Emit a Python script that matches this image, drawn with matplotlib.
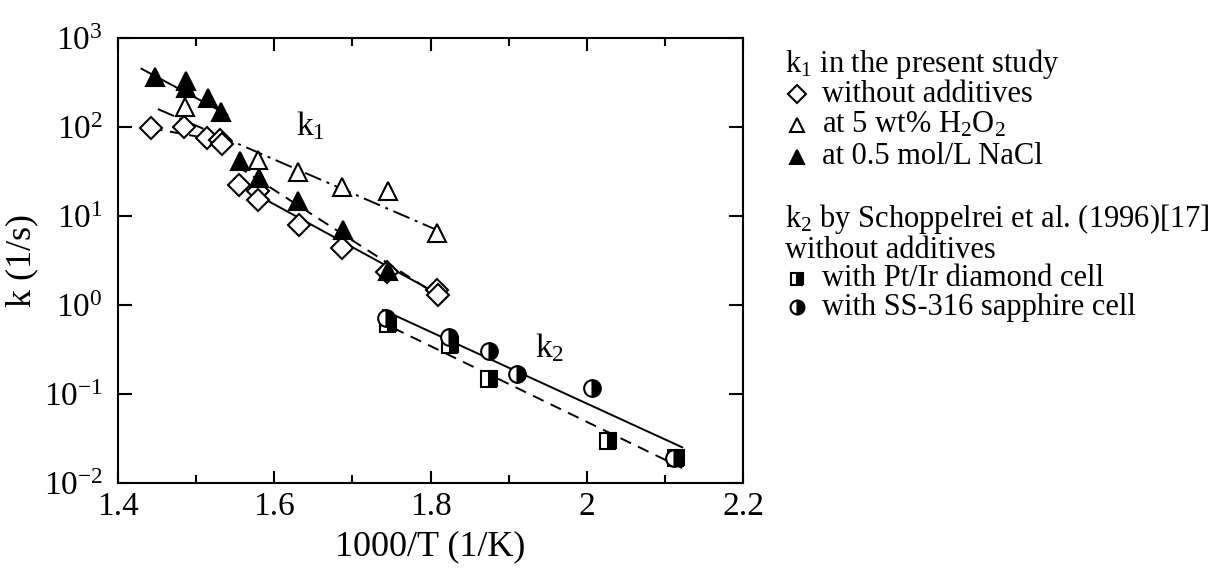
import numpy as np
import matplotlib
matplotlib.use("Agg")
import matplotlib.pyplot as plt
from matplotlib.lines import Line2D
from matplotlib.ticker import FixedLocator, MultipleLocator, FuncFormatter

plt.rcParams["font.family"] = "Liberation Serif"
plt.rcParams["mathtext.fontset"] = "custom"
plt.rcParams["mathtext.rm"] = "Liberation Serif"
plt.rcParams["mathtext.it"] = "Liberation Serif"
plt.rcParams["mathtext.default"] = "rm"

# k1, present study
x_noadd = [1.442, 1.484, 1.514, 1.531, 1.533, 1.555, 1.579, 1.579, 1.632, 1.687, 1.744, 1.808, 1.810]
k_noadd = [98.6, 101, 76, 72, 65, 22.6, 19.3, 15.3, 8.0, 4.4, 2.38, 1.49, 1.31]

x_h2o2 = [1.486, 1.579, 1.630, 1.687, 1.746, 1.808]
k_h2o2 = [172, 42.6, 32, 21.7, 19.1, 6.6]

x_nacl = [1.447, 1.487, 1.487, 1.515, 1.532, 1.556, 1.580, 1.630, 1.688, 1.746]
k_nacl = [365, 337, 281, 217, 148, 41.5, 27.4, 14.8, 7.1, 2.47]

# k2, Schoppelrei et al. (1996)
x_ptir = [1.746, 1.825, 1.875, 2.027, 2.114]
k_ptir = [0.62, 0.36, 0.149, 0.030, 0.0194]

x_ss316 = [1.743, 1.824, 1.875, 1.911, 2.007, 2.112]
k_ss316 = [0.72, 0.44, 0.31, 0.17, 0.118, 0.0194]

# fitted lines (end points)
fit_nacl_hi_x = [1.430, 1.540]
fit_nacl_hi_k = [457, 139]
fit_noadd_hi_x = [1.442, 1.535]
fit_noadd_hi_k = [98, 70]
fit_h2o2_x = [1.451, 1.808]
fit_h2o2_k = [161, 7.05]
fit_nacl_lo_x = [1.552, 1.812]
fit_nacl_lo_k = [37, 1.25]
fit_noadd_lo_x = [1.550, 1.819]
fit_noadd_lo_k = [23.8, 1.21]
fit_ss316_x = [1.739, 2.122]
fit_ss316_k = [0.89, 0.0255]
fit_ptir_x = [1.752, 2.122]
fit_ptir_k = [0.56, 0.0149]

fig = plt.figure(figsize=(12.22, 5.70), dpi=100)
ax = fig.add_axes([0.0966, 0.1518, 0.5115, 0.7807])

lw = 1.4
ax.plot(fit_nacl_hi_x, fit_nacl_hi_k, color="black", lw=lw)
ax.plot(fit_noadd_hi_x, fit_noadd_hi_k, color="black", lw=lw, dashes=(6, 4))
ax.plot(fit_h2o2_x, fit_h2o2_k, color="black", lw=lw, dashes=(9, 3, 1.5, 3))
ax.plot(fit_nacl_lo_x, fit_nacl_lo_k, color="black", lw=lw, dashes=(6, 4))
ax.plot(fit_noadd_lo_x, fit_noadd_lo_k, color="black", lw=lw)
ax.plot(fit_ss316_x, fit_ss316_k, color="black", lw=lw)
ax.plot(fit_ptir_x, fit_ptir_k, color="black", lw=lw, dashes=(6, 4))

mew = 1.5
ax.plot(x_noadd, k_noadd, ls="none", marker="D", ms=11, mfc="white", mec="black", mew=mew)
ax.plot(x_h2o2, k_h2o2, ls="none", marker="^", ms=13, mfc="white", mec="black", mew=mew)
ax.plot(x_nacl, k_nacl, ls="none", marker="^", ms=13, mfc="black", mec="black", mew=mew)
ax.plot(x_ptir, k_ptir, ls="none", marker="s", ms=11, fillstyle="right",
        mfc="black", mfcalt="white", mec="black", mew=mew)
ax.plot(x_ss316, k_ss316, ls="none", marker="o", ms=12, fillstyle="right",
        mfc="black", mfcalt="white", mec="black", mew=mew)

ax.set_yscale("log")
ax.set_xlim(1.4, 2.2)
ax.set_ylim(1e-2, 1e3)

ax.xaxis.set_major_locator(MultipleLocator(0.2))
ax.xaxis.set_minor_locator(MultipleLocator(0.1))
ax.xaxis.set_major_formatter(FuncFormatter(lambda v, p: "2" if abs(v - 2) < 1e-9 else f"{v:.1f}"))
ax.yaxis.set_major_locator(FixedLocator([1e-2, 1e-1, 1e0, 1e1, 1e2, 1e3]))
ax.yaxis.set_minor_locator(FixedLocator([]))
ax.yaxis.set_major_formatter(FuncFormatter(lambda v, p: "10$^{%d}$" % round(np.log10(v))))

ax.tick_params(axis="both", which="both", direction="in", top=True, right=True,
               width=1.5, labelsize=24, pad=6)
ax.tick_params(axis="x", which="major", length=9)
ax.tick_params(axis="x", which="minor", length=6)
ax.tick_params(axis="y", which="major", length=10, pad=11)
for s in ax.spines.values():
    s.set_linewidth(1.5)

ax.set_xlabel("1000/T (1/K)", fontsize=26, labelpad=6)
ax.set_ylabel("k (1/s)", fontsize=26, labelpad=4)

ax.text(1.646, 104, "k$_1$", fontsize=24, ha="center", va="center")
ax.text(1.953, 0.333, "k$_2$", fontsize=24, ha="center", va="center")

# legend block to the right of the axes
fs = 22
tx = 785 / 1222
mx = 797 / 1222
tx2 = 822 / 1222


def fy(py):
    return 1 - py / 570


fig.text(tx, fy(64), "k$_1$ in the present study", fontsize=fs, va="center")
rows = [
    (94, "without additives", dict(marker="D", ms=9, mfc="white", mec="black")),
    (125, "at 5 wt% H$_2$O$_2$", dict(marker="^", ms=10, mfc="white", mec="black")),
    (157, "at 0.5 mol/L NaCl", dict(marker="^", ms=10, mfc="black", mec="black")),
    (279, "with Pt/Ir diamond cell", dict(marker="s", ms=9, fillstyle="right",
                                          mfc="black", mfcalt="white", mec="black")),
    (307, "with SS-316 sapphire cell", dict(marker="o", ms=10, fillstyle="right",
                                            mfc="black", mfcalt="white", mec="black")),
]
for py, label, mk in rows:
    fig.add_artist(Line2D([mx], [fy(py)], ls="none", mew=1.5, **mk))
    fig.text(tx2, fy(py), label, fontsize=fs, va="center")
fig.text(tx, fy(219), "k$_2$ by Schoppelrei et al. (1996)[17]", fontsize=fs, va="center")
fig.text(tx, fy(250), "without additives", fontsize=fs, va="center")

fig.savefig("out.png", dpi=100)
